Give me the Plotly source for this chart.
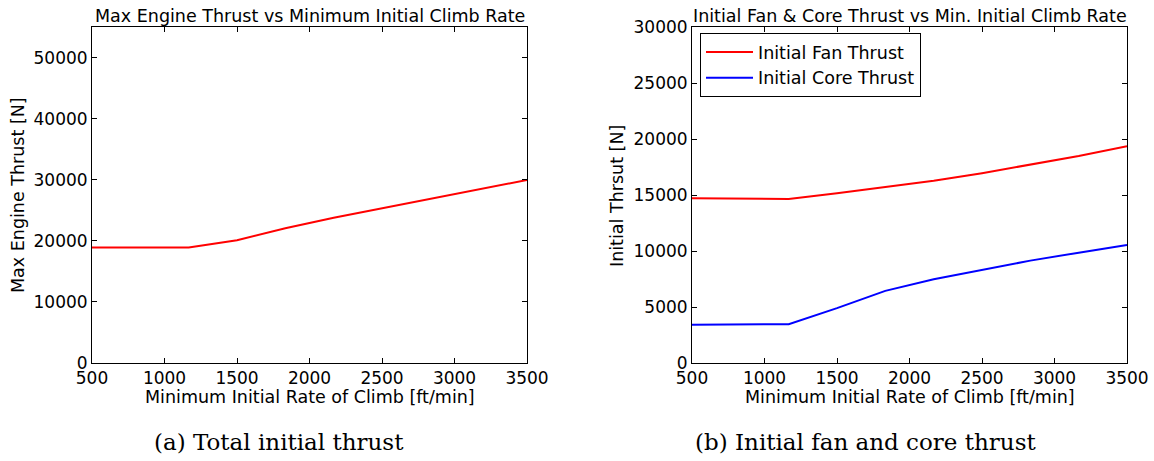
import plotly.graph_objects as go

W, H = 1154, 461

# ---- data ----
climb_rate = [500, 833, 1167, 1500, 1833, 2167, 2500, 2833, 3167, 3500]
total_thrust = [18890, 18890, 18890, 20100, 22060, 23790, 25330, 26800, 28320, 29950]
fan_thrust = [14700, 14690, 14640, 15150, 15680, 16270, 16950, 17680, 18480, 19360]
core_thrust = [3410, 3420, 3470, 4900, 6440, 7480, 8310, 9140, 9850, 10540]

x_ticks = [500, 1000, 1500, 2000, 2500, 3000, 3500]
left_y_ticks = [0, 10000, 20000, 30000, 40000, 50000]
right_y_ticks = [0, 5000, 10000, 15000, 20000, 25000, 30000]

# ---- layout helpers (pixel -> paper) ----
def px(x):
    return x / W

def py(y):
    return (H - y) / H

FONT = "DejaVu Sans"
L0, L1 = 92, 527
R0, R1 = 692, 1127
TOP, BOT = 27, 363

fig = go.Figure()
fig.add_trace(go.Scatter(x=climb_rate, y=total_thrust, mode="lines",
                         line=dict(color="#ff0000", width=2), showlegend=False,
                         xaxis="x", yaxis="y"))
fig.add_trace(go.Scatter(x=climb_rate, y=fan_thrust, mode="lines",
                         line=dict(color="#ff0000", width=2), name="Initial Fan Thrust",
                         xaxis="x2", yaxis="y2"))
fig.add_trace(go.Scatter(x=climb_rate, y=core_thrust, mode="lines",
                         line=dict(color="#0000ff", width=2), name="Initial Core Thrust",
                         xaxis="x2", yaxis="y2"))

axis_common = dict(showline=True, linecolor="black", linewidth=1, mirror="ticks",
                   ticks="inside", ticklen=5, tickcolor="black", tickwidth=1,
                   showgrid=False, zeroline=False, automargin=False,
                   tickformat="d",
                   tickfont=dict(family=FONT, size=17, color="black"))

fig.update_layout(
    width=W, height=H,
    margin=dict(l=0, r=0, t=0, b=0),
    paper_bgcolor="white", plot_bgcolor="white",
    font=dict(family=FONT, color="black"),
    xaxis=dict(domain=[px(L0), px(L1)], range=[500, 3500], tickvals=x_ticks,
               anchor="y", **axis_common),
    yaxis=dict(domain=[py(BOT), py(TOP)], range=[0, 55000], tickvals=left_y_ticks,
               anchor="x", **axis_common),
    xaxis2=dict(domain=[px(R0), px(R1)], range=[500, 3500], tickvals=x_ticks,
                anchor="y2", **axis_common),
    yaxis2=dict(domain=[py(BOT), py(TOP)], range=[0, 30000], tickvals=right_y_ticks,
                anchor="x2", **axis_common),
    legend=dict(x=px(700), y=py(33), xanchor="left", yanchor="top",
                bordercolor="black", borderwidth=1, bgcolor="white",
                font=dict(family=FONT, size=17.5, color="black"),
                itemwidth=47, tracegroupgap=0),
)

ann = []
def text(x, y, s, size=17.5, family=FONT, angle=0):
    ann.append(dict(x=px(x), y=py(y), xref="paper", yref="paper", text=s,
                    showarrow=False, xanchor="center", yanchor="middle",
                    textangle=angle, font=dict(family=family, size=size, color="black")))

text((L0 + L1) / 2, 16, "Max Engine Thrust vs Minimum Initial Climb Rate")
text((R0 + R1) / 2, 16, "Initial Fan &amp; Core Thrust vs Min. Initial Climb Rate")
text((L0 + L1) / 2, 397, "Minimum Initial Rate of Climb [ft/min]")
text((R0 + R1) / 2, 397, "Minimum Initial Rate of Climb [ft/min]")
text(18, (TOP + BOT) / 2, "Max Engine Thrust [N]", angle=-90)
text(617, 196, "Initial Thrsut [N]", angle=-90)
text(279, 442, "(a) Total initial thrust", size=23, family="DejaVu Serif")
text(865, 442, "(b) Initial fan and core thrust", size=23, family="DejaVu Serif")
fig.update_layout(annotations=ann)

fig.write_html("out.html")
